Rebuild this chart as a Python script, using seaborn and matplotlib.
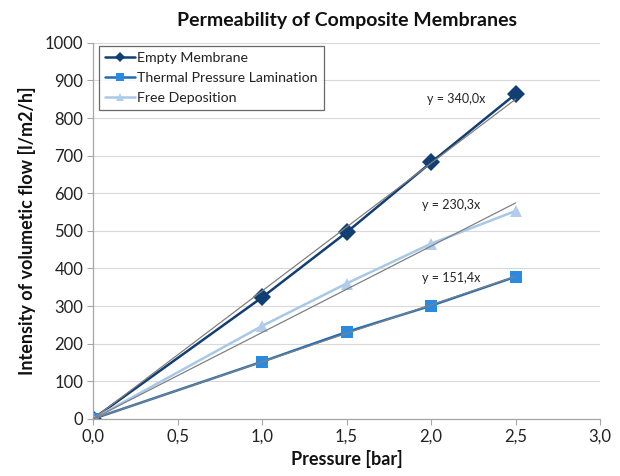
import numpy as np
import pandas as pd
import matplotlib
matplotlib.use("Agg")
import matplotlib.pyplot as plt
from matplotlib.ticker import FuncFormatter
import seaborn as sns

# ---- data ----
pressure = [0.0, 1.0, 1.5, 2.0, 2.5]
empty_membrane = [0, 323, 496, 682, 864]
thermal_lamination = [0, 152, 231, 301, 378]
free_deposition = [0, 247, 360, 466, 553]
series_names = ["Empty Membrane", "Thermal Pressure Lamination", "Free Deposition"]
trend_labels = ["y = 340,0x", "y = 151,4x", "y = 230,3x"]
x_ticks = [0.0, 0.5, 1.0, 1.5, 2.0, 2.5, 3.0]
y_ticks = list(range(0, 1001, 100))

line_colors = ["#123f73", "#1f6db8", "#a8c8e8"]
marker_colors = ["#123f73", "#2a8ae0", "#b0cdea"]
markers = ["D", "s", "^"]

rows = []
for name, vals in zip(series_names, [empty_membrane, thermal_lamination, free_deposition]):
    for p, v in zip(pressure, vals):
        rows.append({"Pressure": p, "Flow": v, "Series": name})
df = pd.DataFrame(rows)

sns.set_theme(style="white")
plt.rcParams["font.family"] = ["Lato", "DejaVu Sans"]

fig = plt.figure(figsize=(6.2, 4.76), dpi=100)
ax = fig.add_axes([0.15, 0.12, 0.818, 0.79])

sns.lineplot(data=df, x="Pressure", y="Flow", hue="Series", style="Series",
             hue_order=series_names, style_order=series_names,
             palette=line_colors, markers=markers, dashes=False, markersize=9,
             markeredgewidth=0, linewidth=1.8, ax=ax, legend=True)
for line, mc in zip(ax.get_lines()[:3], marker_colors):
    line.set_markerfacecolor(mc)
    line.set_markeredgecolor(mc)

# trend lines through origin (least squares fit)
xs = np.array(pressure)
for vals in [empty_membrane, thermal_lamination, free_deposition]:
    ys = np.array(vals, dtype=float)
    slope = np.sum(xs * ys) / np.sum(xs * xs)
    ax.plot([0, 2.5], [0, slope * 2.5], color="#808080", lw=0.9, zorder=5)

ax.text(2.15, empty_membrane[-1] - 28, trend_labels[0], fontsize=9, ha="center", va="bottom", color="#222222")
ax.text(2.12, thermal_lamination[-1] - 18, trend_labels[1], fontsize=9, ha="center", va="bottom", color="#222222")
ax.text(2.12, free_deposition[-1] + 0, trend_labels[2], fontsize=9, ha="center", va="bottom", color="#222222")

ax.set_xlim(0, 3.0)
ax.set_ylim(0, 1000)
ax.set_xticks(x_ticks)
ax.set_yticks(y_ticks)
ax.xaxis.set_major_formatter(FuncFormatter(lambda v, p: f"{v:.1f}".replace(".", ",")))
ax.yaxis.grid(True, color="#d9d9d9", lw=0.8)
ax.xaxis.grid(False)
for s in ["top", "right"]:
    ax.spines[s].set_visible(False)
for s in ["left", "bottom"]:
    ax.spines[s].set_color("#a6a6a6")
    ax.spines[s].set_linewidth(0.9)
ax.tick_params(axis="both", direction="out", length=4, width=0.8, color="#a6a6a6",
               labelsize=12, labelcolor="#222222", bottom=True, left=True, pad=3)

ax.set_title("Permeability of Composite Membranes", fontsize=14, fontweight="bold", pad=12, color="#111111")
ax.set_xlabel("Pressure [bar]", fontsize=13, fontweight="bold", color="#111111", labelpad=4)
ax.set_ylabel("Intensity of volumetic flow [l/m2/h]", fontsize=13, fontweight="bold", color="#111111", labelpad=6)

handles, labels = ax.get_legend_handles_labels()
for h, mc in zip(handles, marker_colors):
    h.set_markerfacecolor(mc)
    h.set_markeredgecolor(mc)
leg = ax.legend(handles, labels, loc="upper left", bbox_to_anchor=(0.006, 1.0), fontsize=10.2,
                frameon=True, fancybox=False, markerscale=0.6, handlelength=2.1, borderpad=0.45,
                labelspacing=0.55, handletextpad=0.15, borderaxespad=0.2)
leg.get_frame().set_edgecolor("#444444")
leg.get_frame().set_linewidth(0.9)
for t in leg.get_texts():
    t.set_color("#222222")

fig.savefig("out.png", dpi=100)
